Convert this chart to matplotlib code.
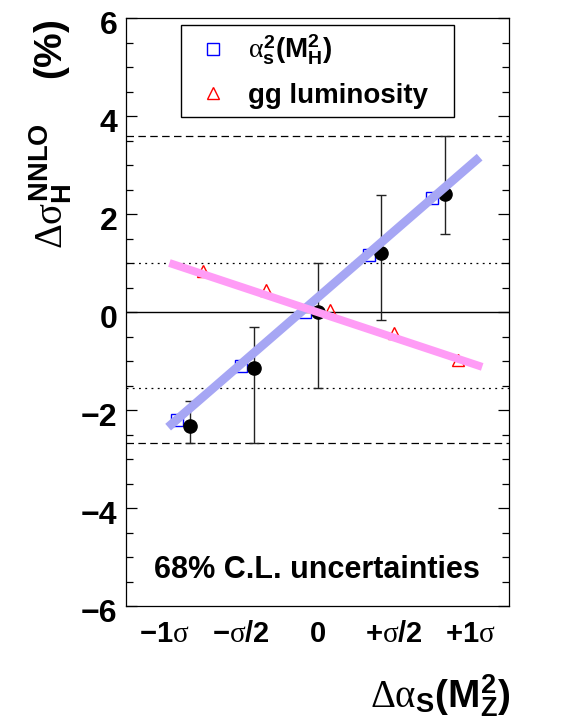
import matplotlib
matplotlib.use("Agg")
import matplotlib.pyplot as plt
import matplotlib.transforms as mtransforms
from matplotlib.lines import Line2D

plt.rcParams['font.family'] = ['Liberation Sans', 'DejaVu Sans']
plt.rcParams['font.weight'] = 'normal'
plt.rcParams['mathtext.fontset'] = 'custom'
plt.rcParams['mathtext.rm'] = 'Liberation Serif'
plt.rcParams['mathtext.it'] = 'Liberation Serif'
plt.rcParams['mathtext.bf'] = 'Liberation Sans:bold'
plt.rcParams['mathtext.sf'] = 'Liberation Sans:bold'

# combined points (black dots) with 68% CL error bars
comb_x = [-1.0, -0.5, 0.0, 0.5, 1.0]
comb_y = [-2.32, -1.14, 0.0, 1.21, 2.40]
comb_lo = [-2.67, -2.67, -1.56, -0.16, 1.59]
comb_hi = [-1.81, -0.30, 1.00, 2.39, 3.60]

# alpha_s^2(M_H^2) scaling (blue squares)
alphas_x = [-1.1, -0.6, -0.1, 0.4, 0.9]
alphas_y = [-2.20, -1.10, 0.00, 1.16, 2.33]

# gg luminosity (red triangles)
lumi_x = [-0.9, -0.4, 0.1, 0.6, 1.1]
lumi_y = [0.84, 0.45, 0.04, -0.43, -0.98]

# straight-line fits
blue_fit_x = [-1.17, 1.27]
blue_fit_y = [-2.35, 3.16]
pink_fit_x = [-1.16, 1.29]
pink_fit_y = [1.00, -1.12]

# horizontal bands
dashed_levels = [3.60, -2.67]
dotted_levels = [1.00, -1.56]

xtick_pos = [-1.2, -0.6, 0.0, 0.6, 1.2]
xtick_labels = [r'$\mathbf{-1}\sigma$', r'$\mathbf{-}\sigma\mathbf{/2}$', r'$\mathbf{0}$',
                r'$\mathbf{+}\sigma\mathbf{/2}$', r'$\mathbf{+1}\sigma$']
ytick_pos = [-6, -4, -2, 0, 2, 4, 6]
ytick_labels = ['\u22126', '\u22124', '\u22122', '0', '2', '4', '6']

fig = plt.figure(figsize=(5.75, 7.2), dpi=100)
ax = fig.add_axes([126 / 575, 114 / 720, 383 / 575, 588 / 720])
ax.set_xlim(-1.5, 1.5)
ax.set_ylim(-6, 6)

ax.axhline(0, color='black', lw=1)
for lev in dashed_levels:
    ax.axhline(lev, color='black', lw=0.9, linestyle=(0, (6, 3.5)))
for lev in dotted_levels:
    ax.axhline(lev, color='black', lw=0.9, linestyle=(0, (1.5, 3.5)))

lo_err = [y - lo for y, lo in zip(comb_y, comb_lo)]
hi_err = [hi - y for y, hi in zip(comb_y, comb_hi)]
ax.errorbar(comb_x, comb_y, yerr=[lo_err, hi_err], fmt='o', color='black',
            ecolor='#222222', elinewidth=1, capsize=3.5, capthick=1, markersize=9.5, zorder=3)
ax.plot(alphas_x, alphas_y, 's', mfc='none', mec='blue', mew=1, markersize=8.5, zorder=2)
ax.plot(lumi_x, lumi_y, '^', mfc='none', mec='red', mew=1, markersize=8, zorder=2)

ax.plot(blue_fit_x, blue_fit_y, color='#a6a6f4', lw=6.3, solid_capstyle='butt', zorder=4)
ax.plot(pink_fit_x, pink_fit_y, color='#ff9cf6', lw=5.7, solid_capstyle='butt', zorder=4)

ax.set_yticks(ytick_pos)
ax.set_yticklabels(ytick_labels, fontsize=23, fontweight='bold')
ax.yaxis.set_minor_locator(matplotlib.ticker.MultipleLocator(0.5))
ax.tick_params(axis='y', which='major', direction='in', length=8, width=0.9,
               left=True, right=True, pad=6)
ax.tick_params(axis='y', which='minor', direction='in', length=5, width=0.9,
               left=True, right=True)
offset = mtransforms.ScaledTranslation(0, -5 / 100, fig.dpi_scale_trans)
for lab in ax.get_yticklabels():
    lab.set_transform(lab.get_transform() + offset)

ax.set_xticks(xtick_pos)
ax.set_xticklabels(xtick_labels, fontsize=21)
ax.tick_params(axis='x', length=0, pad=10)

for s in ax.spines.values():
    s.set_linewidth(0.9)

handles = [Line2D([], [], marker='s', ls='none', mfc='none', mec='blue', mew=1, markersize=8.5),
           Line2D([], [], marker='^', ls='none', mfc='none', mec='red', mew=1, markersize=8)]
leg = ax.legend(handles,
                [r'$\alpha_{\mathbf{s}}^{\mathbf{2}}\mathbf{(M}_{\mathbf{H}}^{\mathbf{2}}\mathbf{)}$',
                 'gg luminosity'],
                loc='upper left', bbox_to_anchor=(0.1436, 0.988 - 0.16, 273 / 383, 0.16),
                mode='expand', fontsize=20,
                frameon=True, fancybox=False, edgecolor='black', framealpha=1,
                borderpad=0.3, labelspacing=0.55, handlelength=1.7, handletextpad=0.43,
                borderaxespad=0)
leg.get_frame().set_linewidth(1)
for t in leg.get_texts():
    t.set_fontweight('bold')

ax.text(0.499, 0.061, '68% C.L. uncertainties', transform=ax.transAxes,
        ha='center', va='center', fontsize=22, fontweight='bold')

fig.text(51 / 575, 1 - 19 / 720,
         r'$\Delta\sigma_{\mathbf{H}}^{\mathbf{NNLO}}$    $\mathbf{(\%)}$',
         rotation=90, ha='center', va='top', fontsize=28)
fig.text(511 / 575, 1 - 719 / 720,
         r'$\Delta\alpha_{\mathbf{S}}\mathbf{(M}_{\mathbf{Z}}^{\mathbf{2}}\mathbf{)}$',
         ha='right', va='bottom', fontsize=28)

fig.savefig('out.png', dpi=100)
